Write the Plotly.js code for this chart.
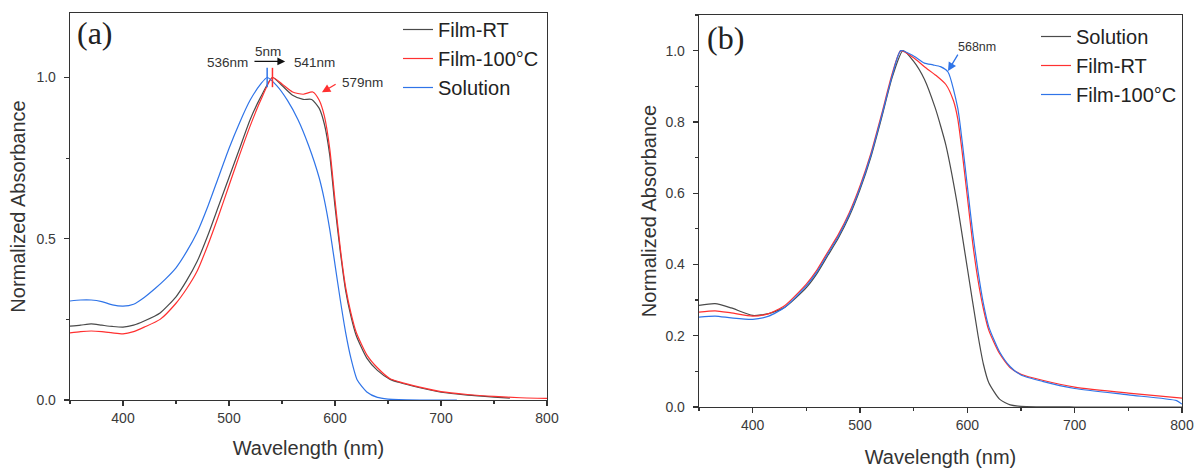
<!DOCTYPE html>
<html>
<head>
<meta charset="utf-8">
<script src="https://cdn.plot.ly/plotly-3.0.1.min.js"></script>
<style>html,body{margin:0;padding:0;background:#fff;}#chart{width:1197px;height:468px;}</style>
</head>
<body>
<div id="chart"></div>
<script>
// ---------- Panel (a) data ----------
const aRT_x   = [350,360,370,380,390,400,410,420,435,450,460,470,480,490,500,510,520,530,541,550,560,570,578,585,590,595,600,605,610,615,620,630,640,652,660,680,700,725,750,765];
const aRT_y   = [0.229,0.232,0.236,0.232,0.228,0.226,0.232,0.245,0.27,0.32,0.37,0.43,0.51,0.60,0.69,0.78,0.87,0.94,1.0,0.975,0.945,0.932,0.932,0.905,0.855,0.76,0.60,0.46,0.34,0.26,0.20,0.13,0.092,0.064,0.055,0.038,0.024,0.015,0.009,0.006];
const a100_x  = [350,360,370,380,390,400,410,420,435,450,460,470,480,490,500,510,520,530,541,550,560,570,579,585,590,595,600,605,610,615,620,630,640,652,660,680,700,725,750,775,800];
const a100_y  = [0.208,0.212,0.214,0.212,0.208,0.205,0.212,0.226,0.25,0.30,0.345,0.40,0.48,0.57,0.665,0.76,0.85,0.93,1.0,0.98,0.955,0.948,0.955,0.93,0.88,0.78,0.62,0.47,0.35,0.27,0.21,0.14,0.10,0.066,0.057,0.04,0.026,0.017,0.011,0.007,0.005];
const aSol_x  = [350,360,370,380,390,400,410,420,430,440,450,460,470,480,490,500,510,520,530,536,545,555,565,575,585,590,595,600,605,610,615,621,630,640,650,660,680,715];
const aSol_y  = [0.307,0.31,0.31,0.305,0.295,0.291,0.297,0.318,0.345,0.375,0.41,0.46,0.52,0.60,0.69,0.78,0.86,0.93,0.98,1.0,0.975,0.93,0.87,0.79,0.69,0.62,0.53,0.42,0.31,0.21,0.13,0.062,0.025,0.008,0.003,0.001,0.0,0.0];

// ---------- Panel (b) data ----------
const bSol_x  = [350,365,380,400,415,430,450,460,470,480,490,500,510,520,530,540,550,560,570,575,580,590,600,610,615,620,630,640,650,700,800];
const bSol_y  = [0.285,0.29,0.278,0.257,0.262,0.28,0.335,0.375,0.425,0.475,0.535,0.61,0.70,0.81,0.925,1.0,0.97,0.92,0.84,0.79,0.735,0.58,0.39,0.20,0.12,0.068,0.022,0.006,0.002,0.0,0.0];
const bRT_x   = [350,365,380,400,415,430,450,460,470,480,490,500,510,520,530,538,550,560,571,580,587,591,595,600,605,610,615,620,630,640,650,670,700,750,800];
const bRT_y   = [0.266,0.27,0.264,0.255,0.262,0.285,0.345,0.385,0.435,0.485,0.545,0.62,0.71,0.82,0.935,1.0,0.98,0.955,0.93,0.905,0.86,0.81,0.72,0.59,0.46,0.355,0.275,0.215,0.15,0.11,0.092,0.075,0.056,0.039,0.025];
const b100_x  = [350,365,380,400,415,430,450,460,470,480,490,500,510,520,530,538,550,560,568,575,582,591,595,600,605,610,615,620,630,640,650,670,700,750,795,800];
const b100_y  = [0.252,0.255,0.25,0.246,0.255,0.28,0.34,0.38,0.43,0.48,0.54,0.615,0.705,0.815,0.93,1.0,0.985,0.965,0.96,0.955,0.94,0.84,0.75,0.62,0.49,0.38,0.29,0.225,0.155,0.113,0.09,0.072,0.052,0.034,0.018,0.008];

const legendA = ['Film-RT','Film-100°C','Solution'];
const legendB = ['Solution','Film-RT','Film-100°C'];

const GRAY = '#4a4a4a', RED = '#ff3030', BLUE = '#2f74e8';
const LW = 1.2;
const line = (c) => ({color:c, width:LW, shape:'spline', smoothing:0.6});

const traces = [
  {x:aRT_x, y:aRT_y, name:legendA[0], mode:'lines', line:line(GRAY), xaxis:'x', yaxis:'y', legend:'legend'},
  {x:a100_x, y:a100_y, name:legendA[1], mode:'lines', line:line(RED), xaxis:'x', yaxis:'y', legend:'legend'},
  {x:aSol_x, y:aSol_y, name:legendA[2], mode:'lines', line:line(BLUE), xaxis:'x', yaxis:'y', legend:'legend'},
  {x:bSol_x, y:bSol_y, name:legendB[0], mode:'lines', line:line(GRAY), xaxis:'x2', yaxis:'y2', legend:'legend2'},
  {x:bRT_x, y:bRT_y, name:legendB[1], mode:'lines', line:line(RED), xaxis:'x2', yaxis:'y2', legend:'legend2'},
  {x:b100_x, y:b100_y, name:legendB[2], mode:'lines', line:line(BLUE), xaxis:'x2', yaxis:'y2', legend:'legend2'}
];

const W = 1197, H = 468;
const px = v => v / W, py = v => 1 - v / H;
const SANS = 'Liberation Sans, Arial, sans-serif';
const tickFont = {family:SANS, size:14, color:'#3a3a3a'};
const titleFont = {family:SANS, size:20, color:'#333'};

function xax(domain, anchor, standoff){
  return {domain:domain, anchor:anchor, range:[350,800], dtick:100, tick0:400,
    showline:true, mirror:true, linecolor:'#333', linewidth:1.3, showgrid:false, zeroline:false,
    ticks:'outside', ticklen:5, tickwidth:1.2, tickcolor:'#333', tickfont:tickFont,
    minor:{ticks:'outside', ticklen:3, tickwidth:1.2, tickcolor:'#333', dtick:50, tick0:350, showgrid:false},
    title:{text:'Wavelength (nm)', font:titleFont, standoff:standoff}};
}
function yax(domain, anchor, range, dtick, standoff){
  return {domain:domain, anchor:anchor, range:range, dtick:dtick, tick0:0, tickformat:'.1f',
    showline:true, mirror:true, linecolor:'#333', linewidth:1.3, showgrid:false, zeroline:false,
    ticks:'outside', ticklen:5, tickwidth:1.2, tickcolor:'#333', tickfont:tickFont, ticklabelstandoff:5,
    minor:{ticks:'outside', ticklen:3, tickwidth:1.2, tickcolor:'#333', dtick:dtick/2, showgrid:false},
    title:{text:'Normalized Absorbance', font:titleFont, standoff:standoff}};
}

const annFont = {family:SANS, size:13.5, color:'#333'};
const legFont = {family:SANS, size:20, color:'#222'};
const layout = {
  width:W, height:H, margin:{l:0,r:0,t:0,b:0}, paper_bgcolor:'#fff', plot_bgcolor:'#fff',
  showlegend:true,
  xaxis: xax([px(70), px(547)], 'y', 16),
  yaxis: yax([py(400), py(13)], 'x', [0,1.2], 0.5, 5),
  xaxis2: xax([px(699), px(1182)], 'y2', 21),
  yaxis2: yax([py(407), py(15)], 'x2', [0,1.1], 0.2, 3),
  legend: {x:px(398), y:py(10), xanchor:'left', yanchor:'top', bgcolor:'rgba(0,0,0,0)', borderwidth:0,
    font:legFont, tracegroupgap:0},
  legend2: {x:px(1036), y:py(17), xanchor:'left', yanchor:'top', bgcolor:'rgba(0,0,0,0)', borderwidth:0,
    font:legFont, tracegroupgap:0},
  shapes: [
    {type:'line', xref:'x', yref:'y', x0:536, x1:536, y0:0.97, y1:1.03, line:{color:BLUE, width:1.5}},
    {type:'line', xref:'x', yref:'y', x0:541, x1:541, y0:0.97, y1:1.03, line:{color:RED, width:1.5}}
  ],
  annotations: [
    {xref:'paper', yref:'paper', x:px(75), y:py(33), xanchor:'left', yanchor:'middle', text:'(a)', showarrow:false,
      font:{family:'Liberation Serif, Times New Roman, serif', size:32, color:'#222'}},
    {xref:'paper', yref:'paper', x:px(705), y:py(38), xanchor:'left', yanchor:'middle', text:'(b)', showarrow:false,
      font:{family:'Liberation Serif, Times New Roman, serif', size:32, color:'#222'}},
    {xref:'x', yref:'y', x:520, y:1.047, xanchor:'right', yanchor:'middle', text:'536nm', showarrow:false, font:annFont},
    {xref:'x', yref:'y', x:536.8, y:1.08, xanchor:'center', yanchor:'middle', text:'5nm', showarrow:false, font:annFont},
    {xref:'x', yref:'y', x:559.4, y:1.047, xanchor:'left', yanchor:'middle', text:'541nm', showarrow:false, font:annFont},
    {xref:'x', yref:'y', axref:'x', ayref:'y', x:553, y:1.05, ax:522.6, ay:1.05, text:'', showarrow:true,
      arrowhead:2, arrowsize:1.2, arrowwidth:1.3, arrowcolor:'#111'},
    {xref:'x', yref:'y', x:604.7, y:0.985, xanchor:'left', yanchor:'middle', text:'579nm', showarrow:false, font:annFont},
    {xref:'x', yref:'y', axref:'x', ayref:'y', x:587.7, y:0.954, ax:602, ay:0.982, text:'', showarrow:true,
      arrowhead:2, arrowsize:1.3, arrowwidth:1.3, arrowcolor:RED},
    {xref:'x2', yref:'y2', x:609, y:1.01, xanchor:'center', yanchor:'middle', text:'568nm', showarrow:false,
      font:{family:SANS, size:12.5, color:'#333'}},
    {xref:'x2', yref:'y2', axref:'x2', ayref:'y2', x:582, y:0.943, ax:592, ay:0.993, text:'', showarrow:true,
      arrowhead:2, arrowsize:1.3, arrowwidth:1.3, arrowcolor:BLUE}
  ]
};

Plotly.newPlot('chart', traces, layout, {displayModeBar:false, staticPlot:true});
</script>
</body>
</html>
